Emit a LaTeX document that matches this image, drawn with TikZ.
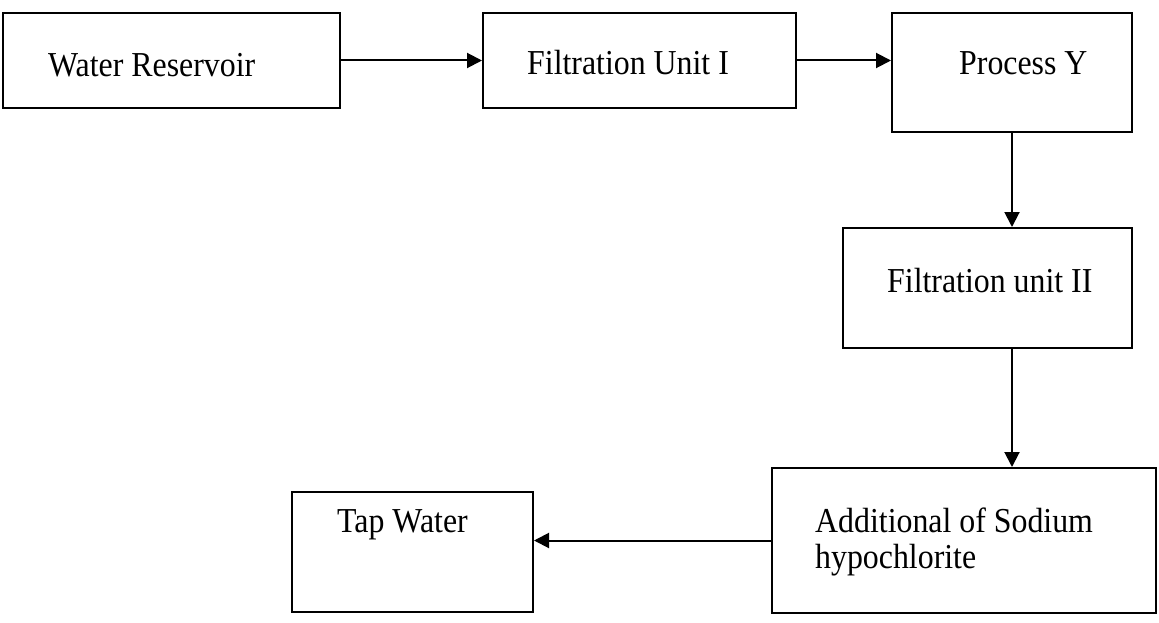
\documentclass[tikz,border=0pt]{standalone}
\usepackage{fontspec}
\setmainfont[FakeStretch=0.91]{Liberation Serif}
\usetikzlibrary{arrows.meta}
\begin{document}
\begin{tikzpicture}[x=1pt,y=-1pt,
  box/.style={draw=black,line width=2pt,fill=none,inner sep=0pt},
  lbl/.style={inner sep=0pt,anchor=base west,font=\fontsize{35}{38}\selectfont},
  flow/.style={draw=black,line width=2pt,-{Triangle[length=15pt,width=15pt]}}]
\useasboundingbox (0,0) rectangle (1159,623);
% boxes
\node[box,minimum width=337pt,minimum height=95pt] (b1) at (171.5,60.5) {};
\node[box,minimum width=313pt,minimum height=95pt] (b2) at (639.5,60.5) {};
\node[box,minimum width=240pt,minimum height=119pt] (b3) at (1012,72.5) {};
\node[box,minimum width=289pt,minimum height=120pt] (b4) at (987.5,288) {};
\node[box,minimum width=384pt,minimum height=145pt] (b5) at (964,540.5) {};
\node[box,minimum width=241pt,minimum height=120pt] (b6) at (412.5,552) {};
% labels
\node[lbl] (t1) at (48,77) {Water Reservoir};
\node[lbl] (t2) at (527,75) {Filtration Unit I};
\node[lbl] (t3) at (959,75) {Process Y};
\node[lbl] (t4) at (887,292) {Filtration unit II};
\node[lbl] (t5a) at (815,532) {Additional of Sodium};
\node[lbl] (t5b) at (815,568) {hypochlorite};
\node[lbl] (t6) at (337,532) {Tap Water};
% connectors
\draw[flow] (b1.east) -- (b2.west);
\draw[flow] (b2.east) -- (b3.west |- b2.east);
\draw[flow] (b3.south) -- (b4.north -| b3.south);
\draw[flow] (b4.south -| b3.south) -- (b5.north -| b3.south);
\draw[flow] (b5.west) -- (b6.east |- b5.west);
\end{tikzpicture}
\end{document}
